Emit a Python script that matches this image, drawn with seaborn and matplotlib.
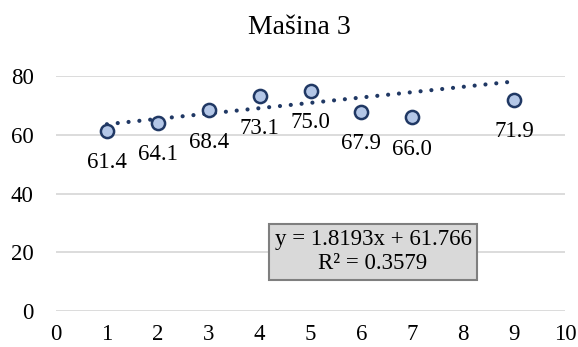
import matplotlib
matplotlib.use("Agg")
import matplotlib.pyplot as plt
import seaborn as sns
import numpy as np
import pandas as pd

title = "Mašina 3"
x_vals = [1, 2, 3, 4, 5, 6, 7, 9]
y_vals = [61.4, 64.1, 68.4, 73.1, 75.0, 67.9, 66.0, 71.9]
slope = 1.8193
intercept = 61.766
r2 = 0.3579
trend_x = [1, 9]

sns.set_theme(style="white")
plt.rcParams['font.family'] = ['Liberation Serif', 'DejaVu Serif']

fig = plt.figure(figsize=(5.78, 3.47), dpi=100)
ax = fig.add_axes([56 / 578, 1 - 311 / 347, 509 / 578, 235 / 347])

df = pd.DataFrame({"x": x_vals, "y": y_vals})
tdf = pd.DataFrame({"x": trend_x, "y": [slope * t + intercept for t in trend_x]})

sns.lineplot(data=tdf, x="x", y="y", ax=ax, color="#203864", lw=3.0,
             linestyle=(0, (0.01, 2.6)), dash_capstyle="round", zorder=3)
sns.scatterplot(data=df, x="x", y="y", ax=ax, s=90, color="#B4C7E7",
                edgecolor="#203864", linewidth=1.8, zorder=4)

for xv, yv in zip(x_vals, y_vals):
    ax.annotate(f"{yv:.1f}", (xv, yv), xytext=(0, -32), textcoords="offset pixels",
                ha="center", va="center", fontsize=16.5, color="#000000")

ax.set_xlim(0, 10)
ax.set_ylim(0, 80)
ax.set_xticks(range(0, 11))
ax.set_yticks(range(0, 81, 20))
ax.yaxis.grid(True, color="#D9D9D9", lw=1.3)
ax.set_axisbelow(True)
for s in ax.spines.values():
    s.set_visible(False)
ax.tick_params(axis="both", labelsize=16.5, colors="#000000", length=0)
ax.tick_params(axis="x", pad=9)
ax.tick_params(axis="y", pad=16)
ax.set_xlabel("")
ax.set_ylabel("")
for c in ax.collections + ax.lines:
    c.set_clip_on(False)

fig.text(299 / 578, 1 - 28 / 347, title, ha="center", va="center", fontsize=20, color="#000000")

ax.text(6.23, 20.2, f"y = {slope}x + {intercept}\nR² = {r2}", ha="center", va="center",
        fontsize=16.5, linespacing=1.15, color="#000000",
        bbox=dict(boxstyle="square,pad=0.25", facecolor="#D9D9D9", edgecolor="#7F7F7F", lw=1.5))

fig.savefig("out.png", dpi=100)
